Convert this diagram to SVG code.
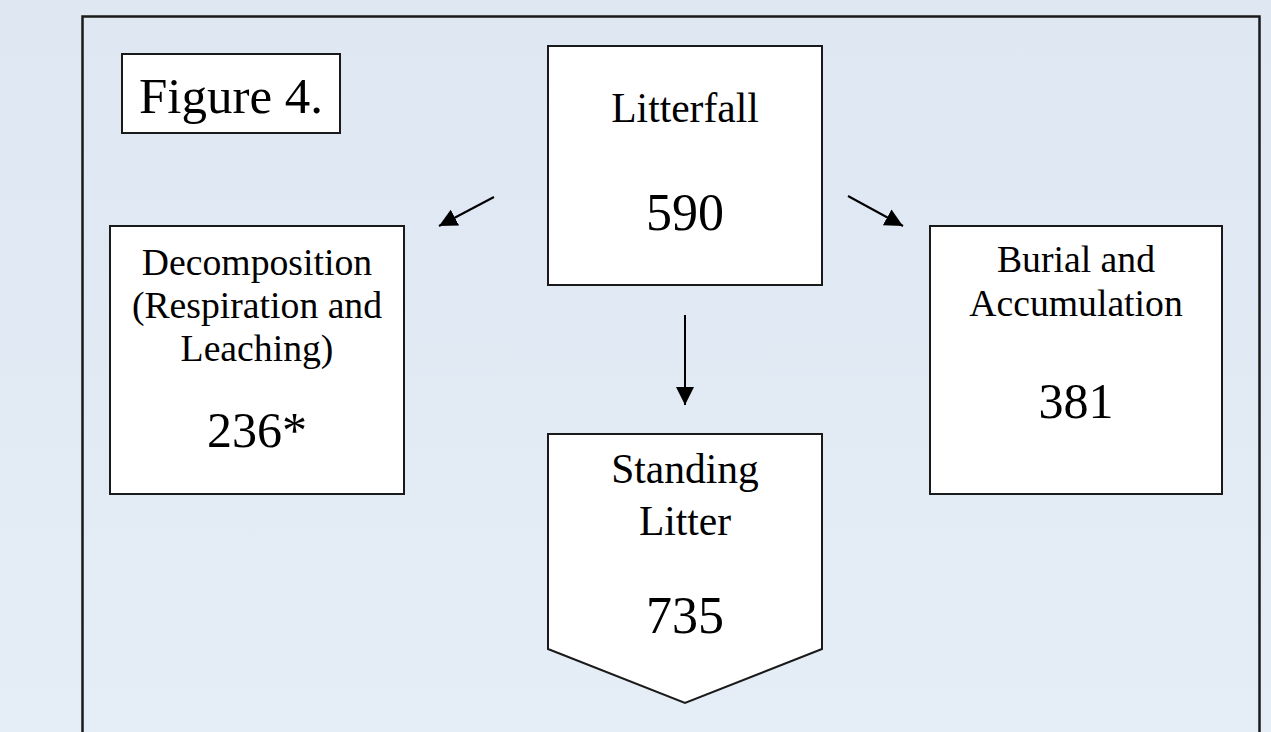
<svg xmlns="http://www.w3.org/2000/svg" width="1271" height="732" viewBox="0 0 1271 732">
  <defs>
    <linearGradient id="bg" x1="0" y1="0" x2="0" y2="1">
      <stop offset="0" stop-color="#dee7f2"/>
      <stop offset="1" stop-color="#e5edf6"/>
    </linearGradient>
    <marker id="arrow" viewBox="0 0 10 10" refX="10" refY="5" markerWidth="9" markerHeight="9" markerUnits="strokeWidth" orient="auto">
      <path d="M0,0 L10,5 L0,10 Z" fill="#000"/>
    </marker>
  </defs>
  <style>
    .box { fill: #ffffff; stroke: #1a1a1a; stroke-width: 2; }
    .frame { fill: none; stroke: #1a1a1a; stroke-width: 2.5; }
    .lbl { font-family: "Liberation Serif", "Times New Roman", serif; fill: #000; text-anchor: middle; }
    .name { font-size: 41.5px; }
    .num { font-size: 52px; }
    .side .name { font-size: 37.7px; }
    .side .num { font-size: 50px; }
    .conn { stroke: #000; stroke-width: 2; fill: none; marker-end: url(#arrow); }
  </style>

  <rect x="0" y="0" width="1271" height="732" fill="url(#bg)"/>

  <!-- outer panel, open at the bottom edge -->
  <path class="frame" d="M82.5,740 V16.5 H1259.5 V740"/>

  <g id="figure-label">
    <rect class="box" x="122" y="54" width="218" height="79"/>
    <text class="lbl" x="231" y="113" font-size="51">Figure 4.</text>
  </g>

  <g id="litterfall">
    <rect class="box" x="548" y="46" width="274" height="239"/>
    <text class="lbl name" x="685" y="122">Litterfall</text>
    <text class="lbl num" x="685" y="230">590</text>
  </g>

  <g id="decomposition" class="side">
    <rect class="box" x="110" y="226" width="294" height="268"/>
    <text class="lbl name" x="257" y="275">Decomposition</text>
    <text class="lbl name" x="257" y="318">(Respiration and</text>
    <text class="lbl name" x="257" y="361">Leaching)</text>
    <text class="lbl num" x="257" y="447">236*</text>
  </g>

  <g id="burial" class="side">
    <rect class="box" x="930" y="226" width="292" height="268"/>
    <text class="lbl name" x="1076" y="272">Burial and</text>
    <text class="lbl name" x="1076" y="316">Accumulation</text>
    <text class="lbl num" x="1076" y="418">381</text>
  </g>

  <g id="standing-litter">
    <path class="box" d="M548,434 H822 V649 L685,703 L548,649 Z"/>
    <text class="lbl name" x="685" y="483">Standing</text>
    <text class="lbl name" x="685" y="535">Litter</text>
    <text class="lbl num" x="685" y="633">735</text>
  </g>

  <g id="connectors">
    <line class="conn" x1="494" y1="197" x2="439" y2="226"/>
    <line class="conn" x1="848" y1="196" x2="903" y2="226"/>
    <line class="conn" x1="685" y1="315" x2="685" y2="405"/>
  </g>
</svg>
